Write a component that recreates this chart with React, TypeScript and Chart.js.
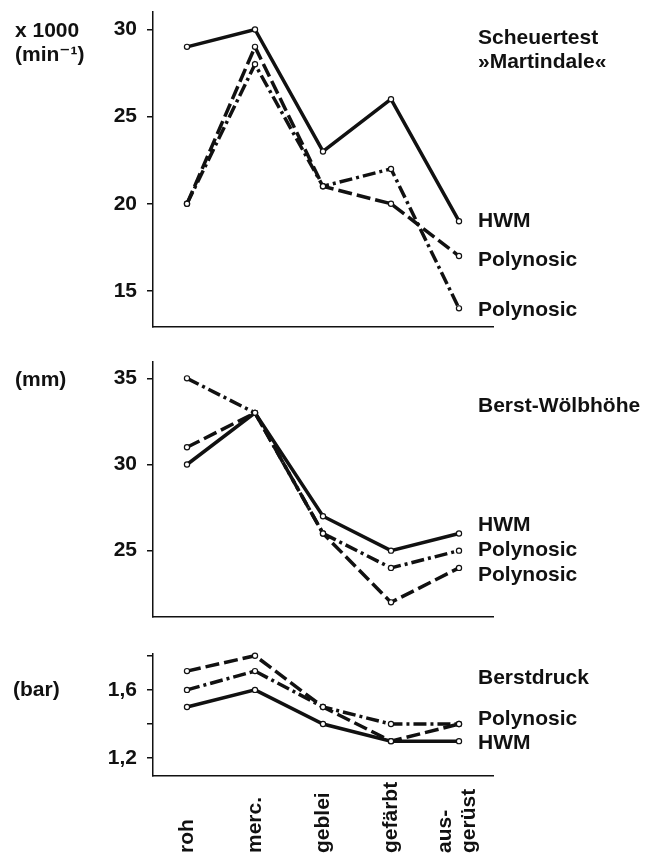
import React, { useEffect, useRef } from 'react';
import { Chart, registerables } from 'chart.js';

Chart.register(...registerables);

// ---------- data ----------
const categories: (string | string[])[] = ['roh', 'merc.', 'geblei', 'gefärbt', ['aus-', 'gerüst']];

// Scheuertest »Martindale« (x 1000 min⁻¹)
const abrasionHWM = [29, 30, 23, 26, 19];
const abrasionPolyDashed = [20, 29, 21, 20, 17];
const abrasionPolyDashDot = [20, 28, 21, 22, 14];
const abrasionTicks = [15, 20, 25, 30];
const abrasionTickLabels = ['15', '20', '25', '30'];

// Berst-Wölbhöhe (mm)
const heightHWM = [30, 33, 27, 25, 26];
const heightPolyDashed = [31, 33, 26, 22, 24];
const heightPolyDashDot = [35, 33, 26, 24, 25];
const heightTicks = [25, 30, 35];
const heightTickLabels = ['25', '30', '35'];

// Berstdruck (bar)
const pressureHWM = [1.5, 1.6, 1.4, 1.3, 1.3];
const pressurePolyDashed = [1.71, 1.8, 1.5, 1.3, 1.4];
const pressurePolyDashDot = [1.6, 1.71, 1.5, 1.4, 1.4];
const pressureTicks = [1.2, 1.4, 1.6, 1.8];
const pressureTickLabels = ['1,2', '', '1,6', ''];

// ---------- styles ----------
const FONT = '"Liberation Sans", Arial, Helvetica, "DejaVu Sans", sans-serif';
const INK = '#111';
const SOLID: number[] = [];
const DASHED = [14, 5];
const DASHDOT = [13, 4, 3, 4];

type TextItem = { text: string; x: number; y: number };

interface PanelDef {
  top: number;
  height: number;
  padTop: number;
  padBottom: number;
  yMin: number;
  yMax: number;
  ticks: number[];
  tickLabels: string[];
  series: { data: number[]; dash: number[] }[];
  texts: TextItem[];
  xLabels: boolean;
}

const panels: PanelDef[] = [
  {
    top: 0, height: 345, padTop: 12, padBottom: 18,
    yMin: 12.93, yMax: 31.0,
    ticks: abrasionTicks, tickLabels: abrasionTickLabels,
    series: [
      { data: abrasionHWM, dash: SOLID },
      { data: abrasionPolyDashed, dash: DASHED },
      { data: abrasionPolyDashDot, dash: DASHDOT },
    ],
    texts: [
      { text: 'x 1000', x: 15, y: 37 },
      { text: '(min⁻¹)', x: 15, y: 61 },
      { text: 'Scheuertest', x: 478, y: 44 },
      { text: '»Martindale«', x: 478, y: 68 },
      { text: 'HWM', x: 478, y: 227 },
      { text: 'Polynosic', x: 478, y: 266 },
      { text: 'Polynosic', x: 478, y: 316 },
    ],
    xLabels: false,
  },
  {
    top: 345, height: 290, padTop: 17, padBottom: 18,
    yMin: 21.15, yMax: 35.95,
    ticks: heightTicks, tickLabels: heightTickLabels,
    series: [
      { data: heightHWM, dash: SOLID },
      { data: heightPolyDashed, dash: DASHED },
      { data: heightPolyDashDot, dash: DASHDOT },
    ],
    texts: [
      { text: '(mm)', x: 15, y: 386 },
      { text: 'Berst-Wölbhöhe', x: 478, y: 412 },
      { text: 'HWM', x: 478, y: 531 },
      { text: 'Polynosic', x: 478, y: 556 },
      { text: 'Polynosic', x: 478, y: 581 },
    ],
    xLabels: false,
  },
  {
    top: 635, height: 219, padTop: 19, padBottom: 78,
    yMin: 1.096, yMax: 1.81,
    ticks: pressureTicks, tickLabels: pressureTickLabels,
    series: [
      { data: pressureHWM, dash: SOLID },
      { data: pressurePolyDashed, dash: DASHED },
      { data: pressurePolyDashDot, dash: DASHDOT },
    ],
    texts: [
      { text: '(bar)', x: 13, y: 696 },
      { text: 'Berstdruck', x: 478, y: 684 },
      { text: 'Polynosic', x: 478, y: 725 },
      { text: 'HWM', x: 478, y: 749 },
    ],
    xLabels: true,
  },
];

const X_LABEL_BOTTOM = 853;

function makeTextPlugin(p: PanelDef) {
  return {
    id: 'panelText',
    afterDraw(chart: any) {
      const ctx: CanvasRenderingContext2D = chart.ctx;
      ctx.save();
      ctx.fillStyle = INK;
      ctx.font = `bold 21px ${FONT}`;
      ctx.textBaseline = 'alphabetic';
      ctx.textAlign = 'left';
      p.texts.forEach((t) => ctx.fillText(t.text, t.x, t.y - p.top));
      if (p.xLabels) {
        const xs = chart.scales.x;
        categories.forEach((c, i) => {
          const lines = Array.isArray(c) ? c : [c];
          const cx = xs.getPixelForValue(i);
          lines.forEach((ln, j) => {
            const x = cx + (j - (lines.length - 1) / 2) * 24 - (lines.length > 1 ? 2 : 0);
            ctx.save();
            ctx.translate(x, X_LABEL_BOTTOM - p.top);
            ctx.rotate(-Math.PI / 2);
            ctx.textBaseline = 'middle';
            ctx.textAlign = 'left';
            ctx.fillText(ln, 0, 0);
            ctx.restore();
          });
        });
      }
      ctx.restore();
    },
  };
}

function Panel({ p }: { p: PanelDef }) {
  const ref = useRef<HTMLCanvasElement | null>(null);
  useEffect(() => {
    if (!ref.current) return;
    const chart = new Chart(ref.current, {
      type: 'line',
      data: {
        labels: categories as any,
        datasets: p.series.map((s) => ({
          data: s.data,
          borderColor: INK,
          borderWidth: 3.5,
          borderDash: s.dash,
          fill: false,
          tension: 0,
          clip: false as any,
          pointRadius: 2.6,
          pointBorderWidth: 1.2,
          pointBackgroundColor: '#fff',
          pointBorderColor: INK,
        })),
      },
      options: {
        responsive: false,
        animation: false,
        devicePixelRatio: 1,
        layout: { padding: { top: p.padTop, bottom: p.padBottom, left: 0, right: 161 } },
        plugins: { legend: { display: false }, tooltip: { enabled: false } },
        scales: {
          x: {
            type: 'category',
            offset: true,
            grid: { display: false, drawTicks: false },
            border: { display: true, color: INK, width: 1.5 },
            ticks: { display: false },
            afterFit: (s: any) => {
              s.height = 0;
              s.paddingLeft = 0;
              s.paddingRight = 0;
            },
          },
          y: {
            type: 'linear',
            min: p.yMin,
            max: p.yMax,
            grid: { drawOnChartArea: false, drawTicks: true, tickLength: 6, color: INK, lineWidth: 1.5 },
            border: { display: true, color: INK, width: 1.5 },
            afterBuildTicks: (s: any) => {
              s.ticks = p.ticks.map((v) => ({ value: v }));
            },
            ticks: {
              color: INK,
              padding: 10,
              font: { family: FONT, size: 21, weight: 'bold' },
              callback: (v: any) => {
                const idx = p.ticks.indexOf(Number(v));
                return idx >= 0 ? p.tickLabels[idx] : '';
              },
            },
            afterFit: (s: any) => {
              s.width = 153;
              s.paddingTop = 0;
              s.paddingBottom = 0;
            },
          },
        },
      } as any,
      plugins: [makeTextPlugin(p)],
    });
    return () => chart.destroy();
  }, [p]);
  return (
    <canvas
      ref={ref}
      width={654}
      height={p.height}
      style={{ position: 'absolute', left: 0, top: p.top, width: 654, height: p.height }}
    />
  );
}

export default function App() {
  return (
    <div style={{ position: 'fixed', left: 0, top: 0, width: 654, height: 854, background: '#fff', overflow: 'hidden' }}>
      {panels.map((p, i) => (
        <Panel key={i} p={p} />
      ))}
    </div>
  );
}
